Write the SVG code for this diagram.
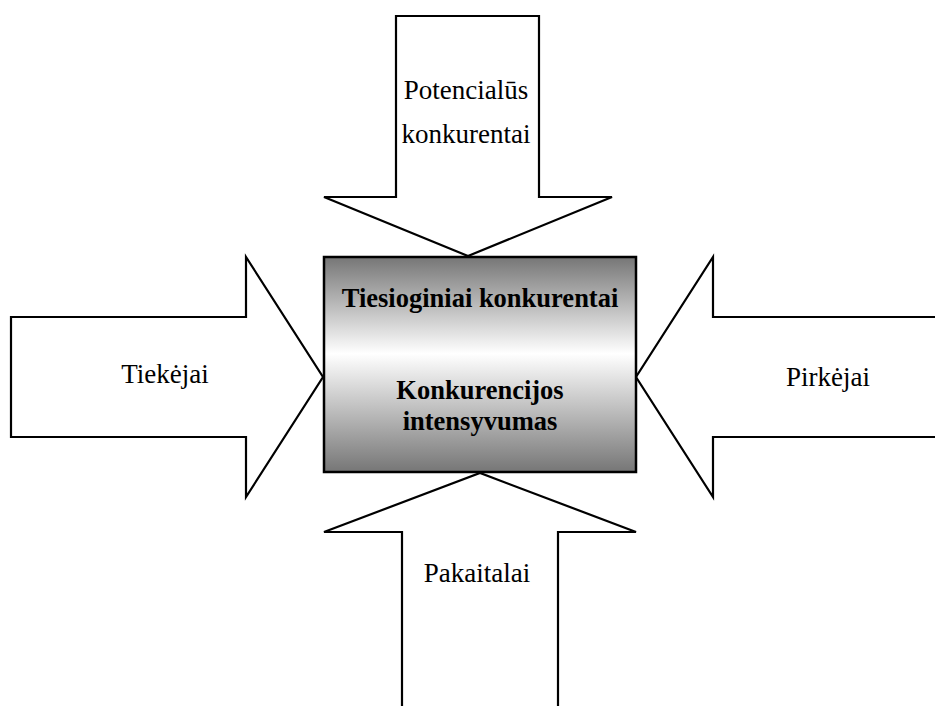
<svg xmlns="http://www.w3.org/2000/svg" width="935" height="706" viewBox="0 0 935 706">
  <defs>
    <linearGradient id="boxFill" x1="0" y1="0" x2="0" y2="1">
      <stop offset="0" stop-color="#767676"/>
      <stop offset="0.45" stop-color="#ffffff"/>
      <stop offset="1" stop-color="#767676"/>
    </linearGradient>
    <style>
      .arrow { fill: #ffffff; stroke: #000000; stroke-width: 2.2; stroke-linejoin: miter; }
      .box { fill: url(#boxFill); stroke: #000000; stroke-width: 2.5; }
      .lbl { font-family: "Liberation Serif", "Times New Roman", serif; font-size: 27px; fill: #000000; text-anchor: middle; }
      .bold { font-weight: bold; font-size: 26.5px; }
    </style>
  </defs>

  <g id="connectors">
    <!-- top arrow: Potencialūs konkurentai -->
    <polygon class="arrow" points="396,16 539,16 539,197 612,197 468,256 324,197 396,197"/>
    <!-- left arrow: Tiekėjai -->
    <polygon class="arrow" points="11,317 246,317 246,257 323,377 246,497 246,437 11,437"/>
    <!-- right arrow: Pirkėjai -->
    <polygon class="arrow" points="945,317 713,317 713,257 636,377 713,497 713,437 945,437"/>
    <!-- bottom arrow: Pakaitalai -->
    <polygon class="arrow" points="402,712 402,532 324,532 480,473 636,532 558,532 558,712"/>
  </g>

  <g id="node-potencialus">
    <text class="lbl" x="466" y="99">Potencialūs</text>
    <text class="lbl" x="466" y="143">konkurentai</text>
  </g>

  <g id="node-tiekejai">
    <text class="lbl" x="165" y="383">Tiekėjai</text>
  </g>

  <g id="node-pirkejai">
    <text class="lbl" x="828" y="386">Pirkėjai</text>
  </g>

  <g id="node-pakaitalai">
    <text class="lbl" x="477" y="582">Pakaitalai</text>
  </g>

  <g id="node-center">
    <rect class="box" x="324" y="257" width="312" height="215"/>
    <text class="lbl bold" x="480" y="307">Tiesioginiai konkurentai</text>
    <text class="lbl bold" x="480" y="399">Konkurencijos</text>
    <text class="lbl bold" x="480" y="430">intensyvumas</text>
  </g>
</svg>
